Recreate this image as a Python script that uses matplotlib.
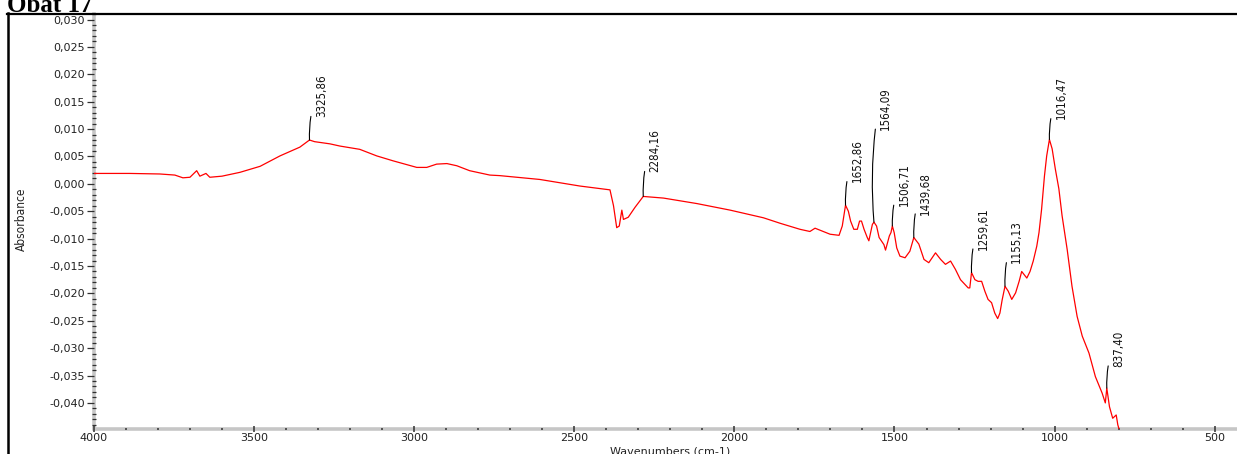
import matplotlib
matplotlib.use("Agg")
import os
import numpy as np
import matplotlib.pyplot as plt
from matplotlib import font_manager
from matplotlib.lines import Line2D
from matplotlib.ticker import MultipleLocator, FuncFormatter

# ---- spectrum (wavenumber in cm-1, absorbance) ----
wavenumber = [
    4000, 3887, 3793, 3746, 3721, 3699, 3678, 3668, 3649, 3637, 3599, 3543,
    3480, 3418, 3356, 3335, 3325.86, 3310, 3262, 3231, 3169, 3116, 3065,
    2991, 2960, 2929, 2897, 2866, 2826, 2763, 2732, 2607, 2482, 2388, 2377,
    2367, 2359, 2351, 2346, 2331, 2310, 2284.16, 2221, 2117, 2013, 1909,
    1857, 1795, 1764, 1748, 1701, 1673, 1663, 1652.86, 1644, 1637, 1627,
    1616, 1609, 1603, 1595, 1585, 1580, 1569, 1564.09, 1556, 1548, 1533,
    1528, 1516, 1511, 1506.71, 1501, 1493, 1483, 1467, 1452, 1439.68, 1424,
    1408, 1393, 1372, 1356, 1341, 1325, 1310, 1294, 1270, 1265, 1259.61,
    1249, 1239, 1228, 1218, 1208, 1197, 1187, 1178, 1171, 1164, 1155.13,
    1145, 1134, 1122, 1111, 1103, 1087, 1077, 1067, 1056, 1049, 1041, 1032,
    1025, 1016.47, 1008, 998, 987, 977, 961, 946, 930, 914, 893, 873, 852,
    842, 837.40, 829, 819, 808, 803, 799,
]
absorbance = [
    0.0019, 0.0019, 0.0018, 0.0016, 0.0011, 0.0012, 0.0024, 0.0014, 0.0019,
    0.0012, 0.0014, 0.0021, 0.0032, 0.0051, 0.0067, 0.0076, 0.0080, 0.0077,
    0.0073, 0.0069, 0.0063, 0.0051, 0.0042, 0.0030, 0.0030, 0.0036, 0.0037,
    0.0033, 0.0024, 0.0016, 0.0015, 0.0008, -0.0004, -0.0011, -0.0040,
    -0.0080, -0.0077, -0.0048, -0.0065, -0.0061, -0.0043, -0.0023, -0.0026,
    -0.0036, -0.0048, -0.0062, -0.0072, -0.0083, -0.0087, -0.0081, -0.0092,
    -0.0094, -0.0077, -0.0039, -0.0050, -0.0068, -0.0083, -0.0083, -0.0068,
    -0.0068, -0.0083, -0.0098, -0.0104, -0.0074, -0.0070, -0.0077, -0.0098,
    -0.0111, -0.0121, -0.0095, -0.0089, -0.0077, -0.0089, -0.0117, -0.0132,
    -0.0135, -0.0123, -0.0098, -0.0110, -0.0138, -0.0144, -0.0126, -0.0138,
    -0.0147, -0.0141, -0.0156, -0.0175, -0.0190, -0.0190, -0.0162, -0.0175,
    -0.0178, -0.0178, -0.0196, -0.0211, -0.0217, -0.0236, -0.0246, -0.0236,
    -0.0212, -0.0187, -0.0196, -0.0211, -0.0199, -0.0178, -0.0160, -0.0172,
    -0.0160, -0.0141, -0.0114, -0.0089, -0.0047, 0.0014, 0.0051, 0.0081,
    0.0064, 0.0027, -0.0009, -0.0058, -0.0120, -0.0187, -0.0242, -0.0278,
    -0.0309, -0.0352, -0.0382, -0.0400, -0.0373, -0.0407, -0.0428, -0.0422,
    -0.0440, -0.0448,
]

# ---- labelled peaks ----
peak_wn = [3325.86, 2284.16, 1652.86, 1564.09, 1506.71, 1439.68,
           1259.61, 1155.13, 1016.47, 837.40]
peak_text = ["3325,86", "2284,16", "1652,86", "1564,09", "1506,71",
             "1439,68", "1259,61", "1155,13", "1016,47", "837,40"]
# height of each leader line above its peak, in points
label_lift = [17, 18, 17, 67, 15, 17, 17, 17, 15, 16]

# ---- axis ticks ----
x_major = [4000, 3500, 3000, 2500, 2000, 1500, 1000, 500]
y_major = [-0.040, -0.035, -0.030, -0.025, -0.020, -0.015, -0.010,
           -0.005, 0.000, 0.005, 0.010, 0.015, 0.020, 0.025, 0.030]


def has_font(name):
    return any(f.name == name for f in font_manager.fontManager.ttflist)


def narrow_props(size):
    """A condensed sans face for the vertical texts, if one is installed."""
    files = [f.fname for f in font_manager.fontManager.ttflist]
    for key in ("LiberationSansNarrow-Regular", "DejaVuSansCondensed.ttf",
                "DejaVuSansCondensed"):
        for path in files:
            if key in os.path.basename(path) and "Bold" not in path and "Oblique" not in path:
                return font_manager.FontProperties(fname=path, size=size)
    return font_manager.FontProperties(family="Liberation Sans", size=size * 0.9)


WIDE = "DejaVu Sans"
SERIF = "Liberation Serif" if has_font("Liberation Serif") else "DejaVu Serif"

W, H = 1237, 454
fig = plt.figure(figsize=(W / 100, H / 100), dpi=100)
fig.patch.set_facecolor("white")

left_px, right_px, top_px, bottom_px = 93.5, W, 13.5, 428.5
ax = fig.add_axes([left_px / W, 1 - bottom_px / H,
                   (right_px - left_px) / W, (bottom_px - top_px) / H])

ax.plot(wavenumber, absorbance, color="#ff0000", lw=0.9, zorder=3)
ax.set_xlim(4000, 431)
ax.set_ylim(-0.04467, 0.0311)

# spines: light grey bars on the left and bottom only
for side in ("top", "right"):
    ax.spines[side].set_visible(False)
for side in ("left", "bottom"):
    ax.spines[side].set_color("#c6c6c6")
    ax.spines[side].set_linewidth(2.6)
    ax.spines[side].set_zorder(1)

ax.set_xticks(x_major)
ax.xaxis.set_minor_locator(MultipleLocator(100))
ax.set_yticks(y_major)
ax.yaxis.set_minor_locator(MultipleLocator(0.001))
ax.xaxis.set_major_formatter(FuncFormatter(lambda v, p: f"{v:.0f}"))
ax.yaxis.set_major_formatter(
    FuncFormatter(lambda v, p: f"{round(v, 3):.3f}".replace(".", ",").replace("-0,000", "0,000")))

tick_col = "#303030"
ax.tick_params(axis="y", which="major", direction="out", length=5, width=0.9,
               color=tick_col, labelsize=8, pad=1, labelcolor="#222222")
ax.tick_params(axis="y", which="minor", direction="inout", length=2.5, width=0.9,
               color=tick_col)
ax.tick_params(axis="x", which="major", direction="inout", length=4, width=1.1,
               color=tick_col, labelsize=8, pad=1, labelcolor="#222222")
ax.tick_params(axis="x", which="minor", direction="inout", length=2, width=1.1,
               color=tick_col)
for lbl in ax.get_xticklabels() + ax.get_yticklabels():
    lbl.set_fontfamily(WIDE)

ax.set_xlabel("Wavenumbers (cm-1)", fontsize=8, family=WIDE, color="#222222")
ax.xaxis.set_label_coords((670 - left_px) / (right_px - left_px),
                          -(447 - bottom_px) / (bottom_px - top_px))
ax.set_ylabel("Absorbance", fontproperties=narrow_props(8.6), color="#222222",
              va="center", ha="center")
ax.yaxis.set_label_coords((21 - left_px) / (right_px - left_px),
                          (bottom_px - 219) / (bottom_px - top_px))

# peak annotations: short leader line with the rotated wavenumber above it
peak_abs = np.interp(peak_wn, wavenumber[::-1], absorbance[::-1])
label_font = narrow_props(8.3)
for wn, ab, txt, lift in zip(peak_wn, peak_abs, peak_text, label_lift):
    ax.annotate("", xy=(wn, ab), xytext=(1.0, lift), textcoords="offset points",
                arrowprops=dict(arrowstyle="-", color="black", lw=0.8,
                                shrinkA=0, shrinkB=0,
                                connectionstyle="arc3,rad=0.05"),
                zorder=4)
    ax.annotate(txt, xy=(wn, ab), xytext=(3.8, lift - 0.5), textcoords="offset points",
                rotation=90, ha="left", va="bottom", fontproperties=label_font,
                color="#111111", zorder=4)

# page frame and heading
fig.add_artist(Line2D([7 / W, 1], [1 - 13.5 / H] * 2, transform=fig.transFigure,
                      color="black", lw=1.6))
fig.add_artist(Line2D([8 / W] * 2, [0, 1 - 13 / H], transform=fig.transFigure,
                      color="black", lw=1.8))
fig.text(7 / W, 1 - 11.5 / H, "Obat 17", family=SERIF, fontweight="bold",
         fontsize=18, ha="left", va="baseline")

fig.savefig("out.png", dpi=100)
